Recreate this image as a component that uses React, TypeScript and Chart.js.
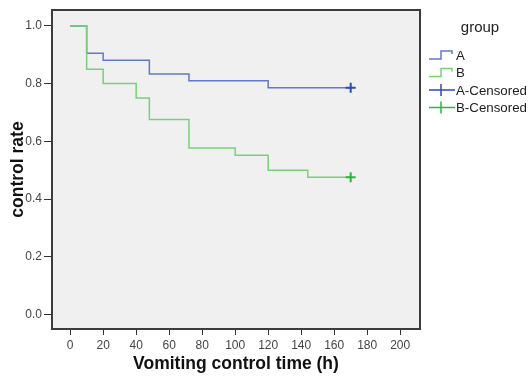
import React, { useEffect, useRef } from "react";
import { Chart, registerables } from "chart.js";

Chart.register(...registerables);

const timesA = [0, 10, 20, 48, 72, 120, 170];
const rateA = [1.0, 0.905, 0.881, 0.833, 0.81, 0.786, 0.786];
const timesB = [0, 10, 20, 40, 48, 72, 100, 120, 144, 170];
const rateB = [1.0, 0.85, 0.8, 0.75, 0.676, 0.577, 0.552, 0.5, 0.476, 0.476];
const xTicks = [0, 20, 40, 60, 80, 100, 120, 140, 160, 180, 200];
const yTicks = [0, 0.2, 0.4, 0.6, 0.8, 1.0];
const legendTitle = "group";
const legendLabels = ["A", "B", "A-Censored", "B-Censored"];
const xTitle = "Vomiting control time (h)";
const yTitle = "control rate";

const BLUE = "rgb(98,120,200)";
const BLUE_C = "rgb(45,75,178)";
const GREEN = "rgb(120,208,120)";
const GREEN_C = "rgb(40,182,60)";

const FONT = "'Liberation Sans', Arial, sans-serif";

const decorPlugin = {
  id: "decor",
  beforeDatasetsDraw(chart: any) {
    const { ctx, chartArea: a } = chart;
    ctx.save();
    ctx.fillStyle = "#f0f0f0";
    ctx.fillRect(a.left, a.top, a.right - a.left, a.bottom - a.top);
    ctx.restore();
  },
  afterDraw(chart: any) {
    const { ctx, chartArea: a } = chart;
    ctx.save();
    ctx.strokeStyle = "#3c3c3c";
    ctx.lineWidth = 2;
    ctx.strokeRect(a.left, a.top, a.right - a.left, a.bottom - a.top);

    // axis titles
    ctx.fillStyle = "#111";
    ctx.font = `bold 17.5px ${FONT}`;
    ctx.textAlign = "center";
    ctx.textBaseline = "middle";
    ctx.fillText(xTitle, (a.left + a.right) / 2, 364);
    ctx.save();
    ctx.translate(18, (a.top + a.bottom) / 2);
    ctx.rotate(-Math.PI / 2);
    ctx.fillText(yTitle, 0, 0);
    ctx.restore();

    // legend
    ctx.fillStyle = "#222";
    ctx.font = `15px ${FONT}`;
    ctx.textAlign = "center";
    ctx.fillText(legendTitle, 480, 28);
    const rows = [55, 72.5, 90, 107.5];
    const cols = [BLUE, GREEN, BLUE_C, GREEN_C];
    ctx.font = `13.3px ${FONT}`;
    ctx.textAlign = "left";
    legendLabels.forEach((lab, i) => {
      const y = rows[i];
      ctx.strokeStyle = cols[i];
      ctx.lineWidth = 1.5;
      ctx.beginPath();
      if (i < 2) {
        ctx.moveTo(429, y + 4);
        ctx.lineTo(441, y + 4);
        ctx.lineTo(441, y - 4);
        ctx.lineTo(452, y - 4);
        ctx.lineTo(452, y - 1);
      } else {
        ctx.moveTo(429, y);
        ctx.lineTo(455, y);
        ctx.moveTo(441, y - 6);
        ctx.lineTo(441, y + 6);
      }
      ctx.stroke();
      ctx.fillStyle = "#222";
      ctx.fillText(lab, 456, y + 1);
    });
    ctx.restore();
  },
};

export default function App() {
  const ref = useRef<HTMLCanvasElement | null>(null);
  useEffect(() => {
    if (!ref.current) return;
    const ptsA = timesA.map((t, i) => ({ x: t, y: rateA[i] }));
    const ptsB = timesB.map((t, i) => ({ x: t, y: rateB[i] }));
    const lastA = ptsA[ptsA.length - 1];
    const lastB = ptsB[ptsB.length - 1];
    const chart = new Chart(ref.current, {
      type: "line",
      data: {
        datasets: [
          { label: "A", order: 2, data: ptsA, borderColor: BLUE, borderWidth: 1.5, stepped: "before", pointRadius: 0, fill: false },
          { label: "B", order: 1, data: ptsB, borderColor: GREEN, borderWidth: 1.5, stepped: "before", pointRadius: 0, fill: false },
          { label: "A-Censored", order: 0, data: [lastA], showLine: false, pointStyle: "cross", pointRadius: 5, pointBorderWidth: 2, borderColor: BLUE_C, backgroundColor: BLUE_C },
          { label: "B-Censored", order: 0, data: [lastB], showLine: false, pointStyle: "cross", pointRadius: 5, pointBorderWidth: 2, borderColor: GREEN_C, backgroundColor: GREEN_C },
        ],
      },
      options: {
        animation: false,
        responsive: false,
        layout: { padding: { left: 0, right: 111, top: 10, bottom: 0 } },
        plugins: { legend: { display: false }, tooltip: { enabled: false } },
        scales: {
          x: {
            type: "linear",
            min: -11,
            max: 212,
            afterBuildTicks: (s: any) => { s.ticks = xTicks.map((v) => ({ value: v })); },
            afterFit: (s: any) => { s.height = 48; },
            grid: { drawOnChartArea: false, drawTicks: true, tickLength: 6, color: "#333" },
            border: { display: false },
            ticks: { color: "#444", font: { size: 12, family: FONT }, padding: 3, maxRotation: 0, autoSkip: false },
          },
          y: {
            type: "linear",
            min: -0.05,
            max: 1.055,
            afterBuildTicks: (s: any) => { s.ticks = yTicks.map((v) => ({ value: v })); },
            afterFit: (s: any) => { s.width = 52; },
            grid: { drawOnChartArea: false, drawTicks: true, tickLength: 8, color: "#333" },
            border: { display: false },
            ticks: { color: "#444", font: { size: 12, family: FONT }, padding: 2, callback: (v: any) => Number(v).toFixed(1) },
          },
        },
      },
      plugins: [decorPlugin],
    } as any);
    return () => chart.destroy();
  }, []);
  return (
    <div style={{ position: "fixed", left: 0, top: 0, width: 531, height: 377, background: "#fff" }}>
      <canvas ref={ref} width={531} height={377} style={{ display: "block" }} />
    </div>
  );
}
